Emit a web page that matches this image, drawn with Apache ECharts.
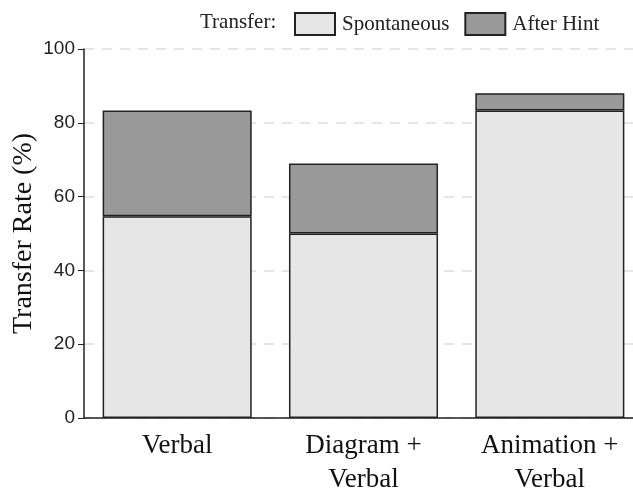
<!DOCTYPE html>
<html>
<head>
<meta charset="utf-8">
<script src="https://cdn.jsdelivr.net/npm/echarts@6/dist/echarts.min.js"></script>
<style>
  html, body { margin: 0; padding: 0; background: #fff; }
  #chart { width: 633px; height: 492px; }
</style>
</head>
<body>
<div id="chart"></div>
<script>
// categories and values
const categories = ['Verbal', 'Diagram +\nVerbal', 'Animation +\nVerbal']
const spontaneous = [54.7, 50, 83.3]
const afterHint = [28.6, 19, 4.7]
const yTicks = [0, 20, 40, 60, 80, 100]

const serif = '"Liberation Serif", "DejaVu Serif", serif'
const sans = '"Liberation Sans", Arial, sans-serif'

const chart = echarts.init(document.getElementById('chart'))

// plot area runs past the right edge, the picture is cropped there
const option = {
  animation: false,
  grid: { left: 84, right: -10, top: 49, bottom: 74, outerBoundsMode: 'none', containLabel: false },
  graphic: [
    {
      type: 'text',
      left: 200,
      top: 12,
      style: { text: 'Transfer:', font: '21px ' + serif, fill: '#222' }
    }
  ],
  legend: {
    left: 294,
    top: 12,
    padding: 0,
    icon: 'rect',
    itemWidth: 40,
    itemHeight: 22,
    itemGap: 15,
    itemStyle: { borderWidth: 2 },
    textStyle: { fontFamily: serif, fontSize: 21, color: '#222', padding: [0, 0, 0, 2] },
    data: ['Spontaneous', 'After Hint']
  },
  xAxis: {
    type: 'category',
    data: categories,
    axisLine: { lineStyle: { color: '#222', width: 1.5 } },
    axisTick: { show: false },
    axisLabel: {
      fontFamily: serif,
      fontSize: 27,
      color: '#111',
      lineHeight: 34,
      margin: 11
    }
  },
  yAxis: {
    type: 'value',
    min: 0,
    max: 100,
    interval: 20,
    name: 'Transfer Rate (%)',
    nameLocation: 'middle',
    nameGap: 46,
    nameMoveOverlap: false,
    nameTextStyle: { fontFamily: serif, fontSize: 28, color: '#111' },
    axisLine: { show: true, lineStyle: { color: '#222', width: 1.5 } },
    axisTick: { show: true, length: 6, lineStyle: { color: '#222' } },
    axisLabel: {
      fontFamily: sans,
      fontSize: 19,
      color: '#222',
      margin: 9,
      formatter: v => (yTicks.includes(v) ? String(v) : '')
    },
    splitLine: { lineStyle: { color: '#dddddd', type: [10, 8], width: 1.5 } }
  },
  series: [
    {
      name: 'Spontaneous',
      type: 'bar',
      stack: 'total',
      barWidth: '80%',
      data: spontaneous,
      itemStyle: { color: '#e6e6e6', borderColor: '#222', borderWidth: 1.5 }
    },
    {
      name: 'After Hint',
      type: 'bar',
      stack: 'total',
      barWidth: '80%',
      data: afterHint,
      itemStyle: { color: '#999999', borderColor: '#222', borderWidth: 1.5 }
    }
  ]
}

chart.setOption(option)
</script>
</body>
</html>
